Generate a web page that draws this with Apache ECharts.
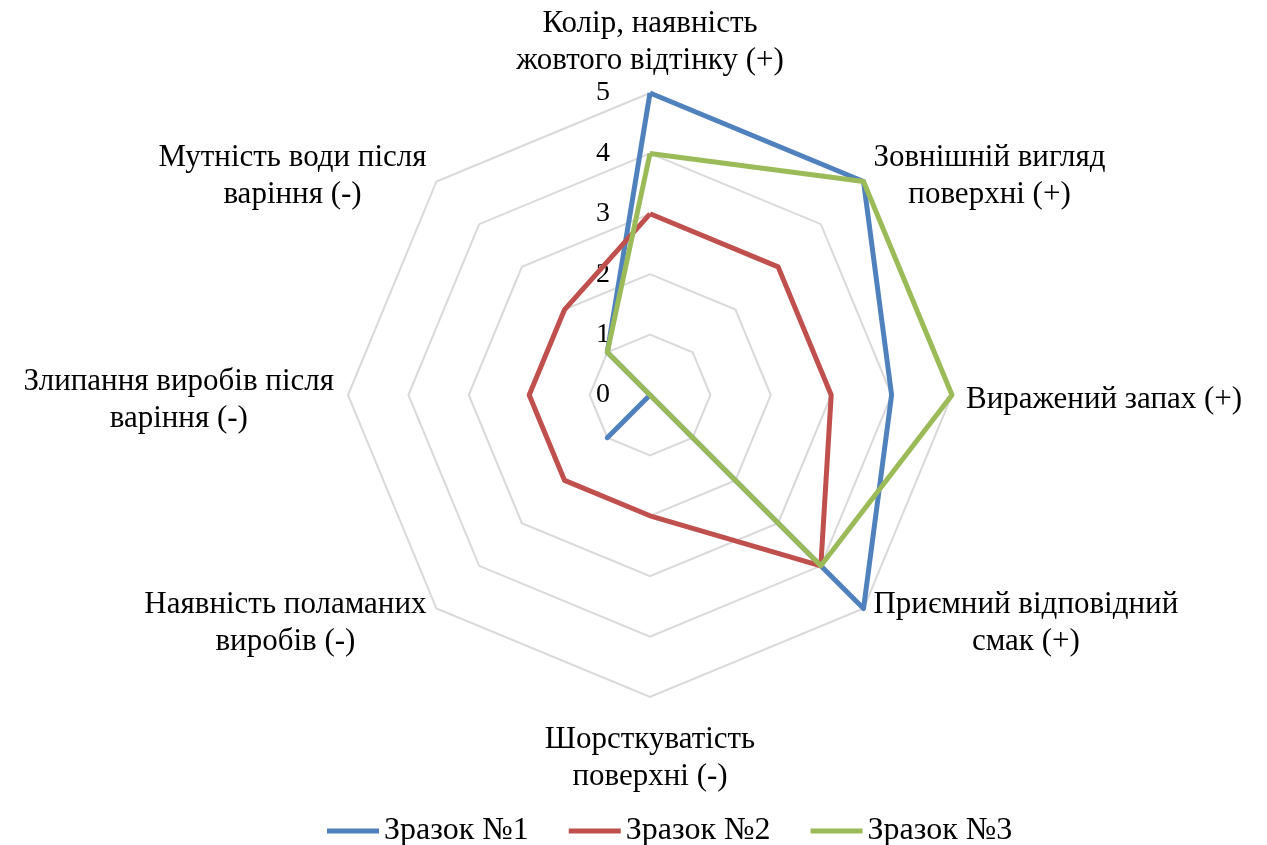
<!DOCTYPE html>
<html>
<head>
<meta charset="utf-8">
<script src="https://cdn.jsdelivr.net/npm/echarts@6/dist/echarts.min.js"></script>
<style>
html,body{margin:0;padding:0;background:#fff;}
#chart{width:1267px;height:845px;}
</style>
</head>
<body>
<div id="chart"></div>
<script>
// Categories listed clockwise starting from the top
const categories = [
  'Колір, наявність\nжовтого відтінку (+)',
  'Зовнішній вигляд\nповерхні (+)',
  'Виражений запах (+)',
  'Приємний відповідний\nсмак (+)',
  'Шорсткуватість\nповерхні (-)',
  'Наявність поламаних\nвиробів (-)',
  'Злипання виробів після\nваріння (-)',
  'Мутність води після\nваріння (-)'
];
const seriesNames = ['Зразок №1', 'Зразок №2', 'Зразок №3'];
const sample1 = [5, 5, 4, 5, 0, 1, 0, 1];
const sample2 = [3, 3, 3, 4, 2, 2, 2, 2];
const sample3 = [4, 5, 5, 4, 0, 0, 0, 1];
const axisMin = 0, axisMax = 5, axisSplits = 5;
const colors = ['#4F81BD', '#C0504D', '#9BBB59'];

const FONT = '"Liberation Serif", "Times New Roman", serif';
const chart = echarts.init(document.getElementById('chart'));

// ECharts radar runs counter-clockwise; reorder so the chart reads clockwise
const order = [0].concat(categories.map((_, i) => i).slice(1).reverse());
const reorder = arr => order.map(i => arr[i]);

const indicator = order.map((ci, k) => {
  const o = { name: categories[ci], min: axisMin, max: axisMax };
  if (k === 0) o.axisLabel = { show: true };
  return o;
});

const samples = [sample1, sample2, sample3];

chart.setOption({
  backgroundColor: '#fff',
  animation: false,
  color: colors,
  legend: {
    top: 810,
    left: 322,
    data: seriesNames,
    icon: 'rect',
    itemWidth: 52,
    itemHeight: 5,
    itemGap: 40,
    textStyle: { fontFamily: FONT, fontSize: 32, color: '#000' }
  },
  radar: {
    center: [650, 395],
    radius: 302,
    startAngle: 90,
    splitNumber: axisSplits,
    shape: 'polygon',
    indicator: indicator,
    axisName: {
      color: '#000',
      fontFamily: FONT,
      fontSize: 31,
      padding: [10, 0, 0, 0],
      formatter: function (name) {
        return name.split('\n').map(l => '{c|' + l + '}').join('\n');
      },
      rich: {
        c: { align: 'center', fontFamily: FONT, fontSize: 31, lineHeight: 37, color: '#000' }
      }
    },
    nameGap: 14,
    axisLine: { show: false },
    axisTick: { show: false },
    axisLabel: { show: false, color: '#000', fontFamily: FONT, fontSize: 28, margin: 40, padding: [8, 0, 0, 0] },
    splitLine: { lineStyle: { color: '#D9D9D9', width: 2 } },
    splitArea: { show: false }
  },
  series: [{
    type: 'radar',
    symbol: 'none',
    lineStyle: { width: 5 },
    data: samples.map((s, i) => ({
      name: seriesNames[i],
      value: reorder(s),
      lineStyle: { color: colors[i], width: 5 },
      itemStyle: { color: colors[i] }
    }))
  }]
});
</script>
</body>
</html>
